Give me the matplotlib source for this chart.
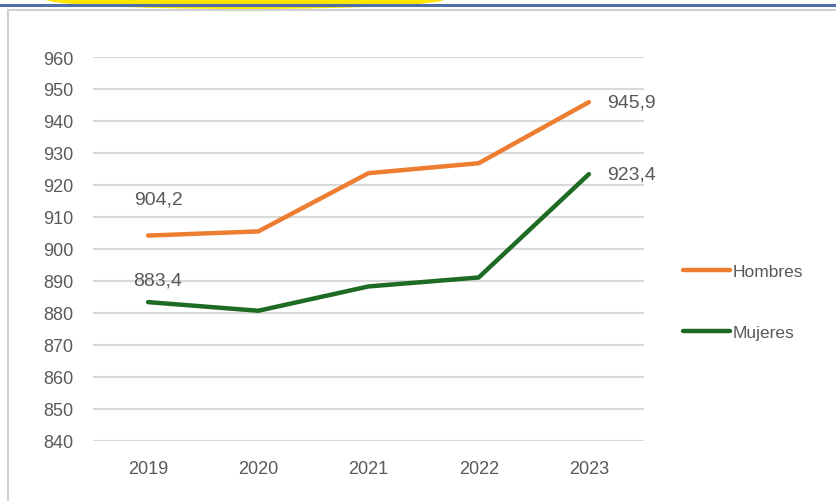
import matplotlib.pyplot as plt
from matplotlib.patches import Ellipse
from matplotlib.lines import Line2D

years = ["2019", "2020", "2021", "2022", "2023"]
hombres = [904.2, 905.5, 923.7, 926.8, 945.9]
mujeres = [883.4, 880.7, 888.3, 891.1, 923.4]
yticks = list(range(840, 961, 10))

orange = "#ED7D31"
green = "#1E6B24"
txt = "#595959"

plt.rcParams['font.family'] = ['Liberation Sans', 'DejaVu Sans']

fig = plt.figure(figsize=(8.36, 5.02), dpi=100)

# decoration at the top: yellow shape, blue rule, chart frame
fig.patches.append(Ellipse((245 / 836, 1.0), 400 / 836, 20 / 502, transform=fig.transFigure,
                           facecolor="#FFE600", edgecolor="none", zorder=0))
fig.lines.append(Line2D([0, 1], [1 - 6 / 502, 1 - 6 / 502], transform=fig.transFigure,
                        color="#4F6FA8", lw=2.2))
fig.lines.append(Line2D([8 / 836, 1], [1 - 11 / 502, 1 - 11 / 502], transform=fig.transFigure,
                        color="#D0D0D0", lw=1.5))
fig.lines.append(Line2D([8 / 836, 8 / 836], [0, 1 - 11 / 502], transform=fig.transFigure,
                        color="#D0D0D0", lw=1.5))

ax = fig.add_axes([93 / 836, 1 - 442 / 502, 551 / 836, 384 / 502])
x = range(len(years))
ax.plot(x, hombres, color=orange, lw=3.2, solid_capstyle="round", label="Hombres", zorder=3)
ax.plot(x, mujeres, color=green, lw=3.2, solid_capstyle="round", label="Mujeres", zorder=3)

ax.set_xlim(-0.5, len(years) - 0.5)
ax.set_ylim(840, 960)
ax.set_yticks(yticks)
ax.set_xticks(list(x))
ax.set_xticklabels(years)
ax.yaxis.grid(True, color="#D9D9D9", lw=1.5)
ax.set_axisbelow(True)
for s in ax.spines.values():
    s.set_visible(False)
ax.tick_params(length=0, colors=txt, labelsize=13)
ax.tick_params(axis="x", pad=14)
ax.tick_params(axis="y", pad=14)

def fmt(v):
    return f"{v:.1f}".replace(".", ",")

lab = dict(color=txt, fontsize=14)
ax.annotate(fmt(hombres[0]), (0, hombres[0]), xytext=(-10, 26), textcoords="offset points",
            ha="left", va="center", **lab)
ax.annotate(fmt(mujeres[0]), (0, mujeres[0]), xytext=(-11, 16), textcoords="offset points",
            ha="left", va="center", **lab)
ax.annotate(fmt(hombres[-1]), (4, hombres[-1]), xytext=(13, 0), textcoords="offset points",
            ha="left", va="center", **lab)
ax.annotate(fmt(mujeres[-1]), (4, mujeres[-1]), xytext=(13, 0), textcoords="offset points",
            ha="left", va="center", **lab)

ax.legend(loc="center left", bbox_to_anchor=(683 / 836, 1 - 303 / 502), bbox_transform=fig.transFigure,
          frameon=False, handlelength=2.7, handletextpad=0.15, labelspacing=2.6,
          fontsize=12.5, labelcolor=txt, borderaxespad=0, borderpad=0)

fig.savefig("out.png", dpi=100)
